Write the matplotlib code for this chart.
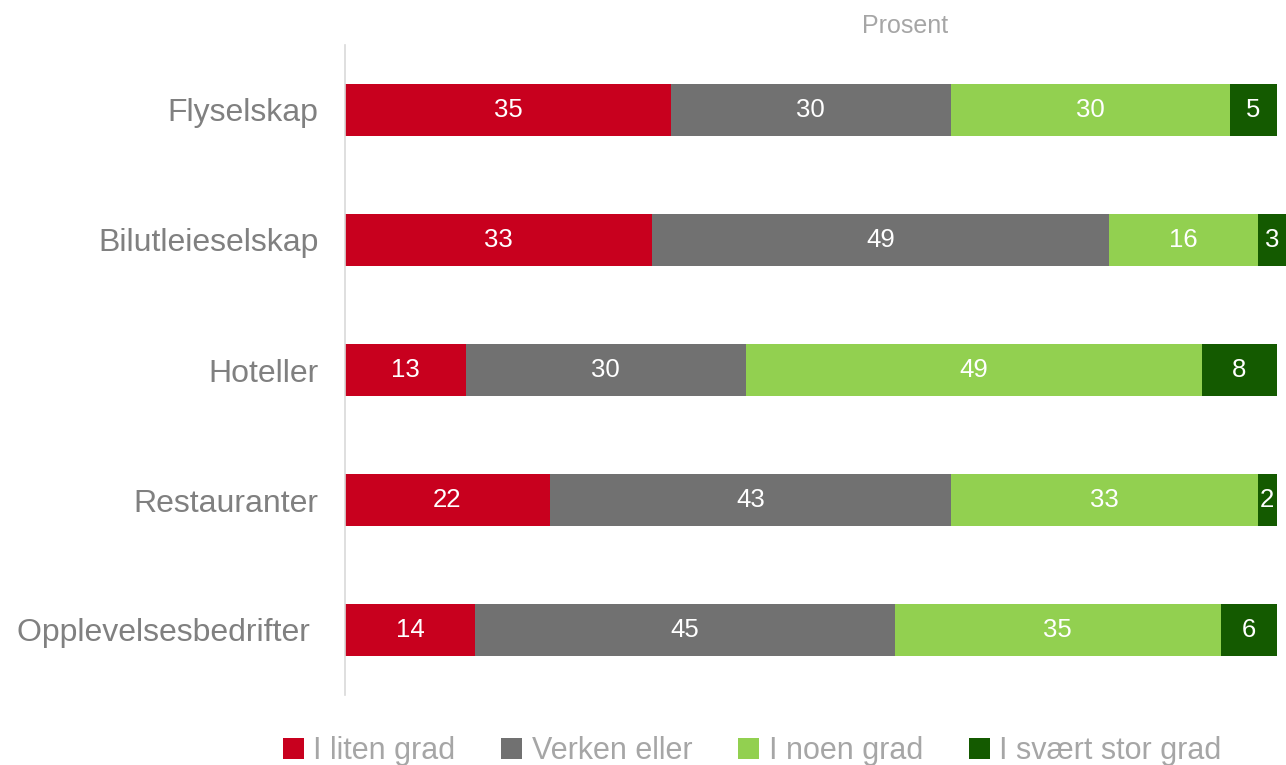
import matplotlib
matplotlib.use("Agg")
import matplotlib.pyplot as plt
from matplotlib.patches import Patch

categories = ["Flyselskap", "Bilutleieselskap", "Hoteller", "Restauranter", "Opplevelsesbedrifter "]
series_names = ["I liten grad", "Verken eller", "I noen grad", "I svært stor grad"]
liten = [35, 33, 13, 22, 14]
verken = [30, 49, 30, 43, 45]
noen = [30, 16, 49, 33, 35]
svaert = [5, 3, 8, 2, 6]
colors = ["#C8001E", "#717171", "#92D050", "#145A00"]

plt.rcParams['font.family'] = ['Liberation Sans', 'DejaVu Sans']

fig = plt.figure(figsize=(12.86, 7.65), dpi=100)
ax = fig.add_axes([345/1286, 1-695/765, 1-345/1286, 650/765])

series = [liten, verken, noen, svaert]
ypos = list(range(len(categories)))
left = [0]*len(categories)
for vals, col in zip(series, colors):
    bars = ax.barh(ypos, vals, left=left, height=0.4, color=col, linewidth=0)
    ax.bar_label(bars, labels=[str(v) for v in vals], label_type='center', color='white', fontsize=18.5)
    left = [l + v for l, v in zip(left, vals)]

ax.set_xlim(0, 101)
ax.set_ylim(len(categories)-0.5, -0.5)
ax.set_yticks(ypos)
ax.set_yticklabels(categories, fontsize=23, color='#808080')
ax.tick_params(axis='y', length=0, pad=19)
ax.set_xticks([])
for s in ['top', 'right', 'bottom']:
    ax.spines[s].set_visible(False)
ax.spines['left'].set_color('#D9D9D9')
ax.spines['left'].set_linewidth(1.2)

fig.text(905/1286, 1-26/765, "Prosent", ha='center', va='center', fontsize=18, color='#A6A6A6')

handles = [Patch(facecolor=c, edgecolor='none') for c in colors]
leg = fig.legend(handles, series_names, loc='center', bbox_to_anchor=(752/1286, 1-751/765),
                 ncol=4, frameon=False, handlelength=0.7, handleheight=0.7, handletextpad=0.3,
                 columnspacing=1.5, prop={'size': 22})
for t in leg.get_texts():
    t.set_color('#A6A6A6')

fig.savefig("out.png", dpi=100)
